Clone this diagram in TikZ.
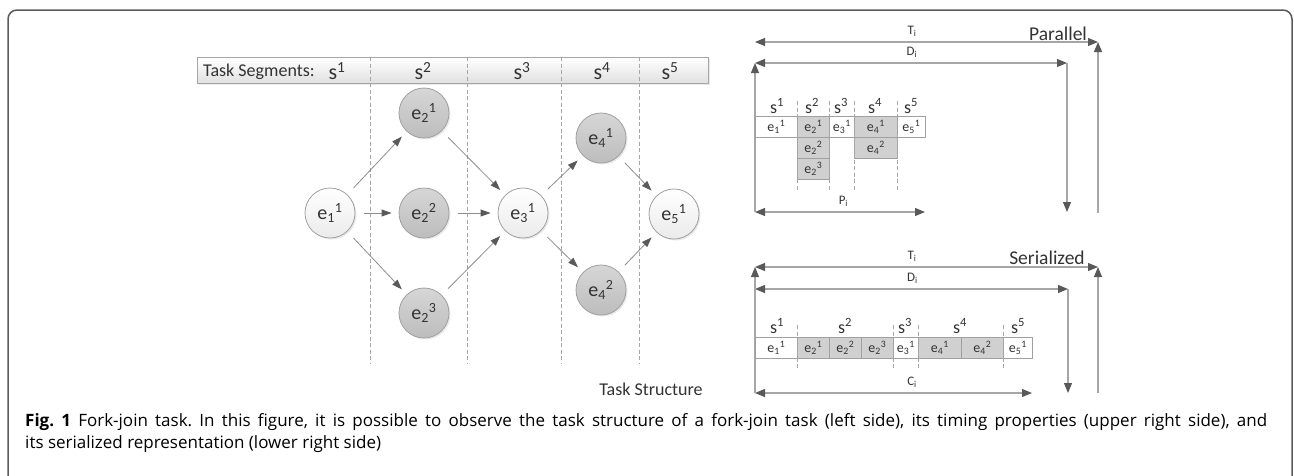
\documentclass[tikz,border=0pt]{standalone}
\usepackage{fontspec}
\setmainfont{Carlito}
\newfontfamily\capfont{Open Sans}
\usetikzlibrary{arrows.meta,shadows}
\definecolor{tipgray}{HTML}{595959}
\definecolor{linegray}{HTML}{8C8C8C}
\definecolor{dimgray}{HTML}{A6A6A6}
\definecolor{bordgray}{HTML}{A0A0A0}
\definecolor{dashgray}{HTML}{A6A6A6}
\definecolor{fillgray}{HTML}{D0D0D0}
\definecolor{framegray}{HTML}{5A5A5A}
\definecolor{txt}{HTML}{333333}
\newcommand\ev[2]{e\textsubscript{#1}\textsuperscript{#2}}
\newcommand\sv[1]{s\textsuperscript{#1}}
\tikzset{
  circnode/.style={circle, minimum size=50pt, inner sep=0pt, draw=bordgray, line width=0.8pt,
    font=\fontsize{20}{20}\selectfont, text=txt,
    drop shadow={shadow xshift=1.5pt,shadow yshift=-1.5pt,opacity=0.18}},
  wnode/.style={circnode, top color=white, bottom color=white!92!black},
  gnode/.style={circnode, top color=white!84!black, bottom color=white!74!black},
  flow/.style={draw=linegray, line width=0.8pt, -{Triangle[length=10pt,width=7pt,color=tipgray]},
    shorten <=9pt, shorten >=7pt},
  segdash/.style={draw=dashgray, line width=0.7pt, dash pattern=on 4pt off 2.5pt},
  dimline/.style={draw=dimgray, line width=1.1pt},
  dimarr/.style={dimline, >={Triangle[length=10pt,width=8pt,color=tipgray]}},
  dimlab/.style={font=\fontsize{13}{13}\selectfont, text=txt, inner sep=0pt},
  gbox/.style={draw=bordgray, line width=0.8pt, minimum height=21pt, inner sep=0pt,
    anchor=north west, font=\fontsize{14}{14}\selectfont, text=txt},
  wbox/.style={gbox, fill=white},
  sbox/.style={gbox, fill=fillgray},
  glab/.style={font=\fontsize{18}{18}\selectfont, text=txt, inner sep=0pt},
  seglab/.style={font=\fontsize{22}{22}\selectfont, text=txt, inner sep=0pt},
  titlab/.style={font=\fontsize{18}{18}\selectfont, text=txt, inner sep=0pt},
  bigtit/.style={font=\fontsize{19.5}{19.5}\selectfont, text=txt, inner sep=0pt},
  captext/.style={anchor=base west, inner sep=0pt, font=\capfont\fontsize{17}{17}\selectfont\frenchspacing, text=black},
}
\begin{document}
\begin{tikzpicture}[x=1pt,y=-1pt]
\useasboundingbox (0,0) rectangle (1294,475);
% frame
\draw[framegray, line width=1.5pt, rounded corners=9pt] (8,520) -- (8,10) -- (1292,10) -- (1292,520);

% ---------- Task structure ----------
\node[draw=dimgray, line width=0.8pt, top color=white, bottom color=white!88!black,
  minimum width=511pt, minimum height=26pt, inner sep=0pt, anchor=north west,
  drop shadow={shadow xshift=1.5pt,shadow yshift=-1.5pt,opacity=0.18}] (bar) at (197,57) {};
\node[titlab, anchor=west] (tseg) at (203,72) {Task Segments:};
\node[seglab] (bs1) at (337,71) {\sv{1}};
\node[seglab] (bs2) at (423,71) {\sv{2}};
\node[seglab] (bs3) at (522,71) {\sv{3}};
\node[seglab] (bs4) at (602,71) {\sv{4}};
\node[seglab] (bs5) at (670,71) {\sv{5}};
\foreach \xx [count=\i] in {370,467,561,639}{
  \coordinate (dt\i) at (\xx,57);
  \coordinate (db\i) at (\xx,363);
  \draw[segdash] (dt\i) -- (db\i);
}
\node[wnode] (e11) at (330,213) {\ev{1}{1}};
\node[gnode] (e21) at (424,113) {\ev{2}{1}};
\node[gnode] (e22) at (424,213) {\ev{2}{2}};
\node[gnode] (e23) at (424,313) {\ev{2}{3}};
\node[wnode] (e31) at (523,213) {\ev{3}{1}};
\node[gnode] (e41) at (601,138) {\ev{4}{1}};
\node[gnode] (e42) at (601,290) {\ev{4}{2}};
\node[wnode] (e51) at (674,214) {\ev{5}{1}};
\draw[flow] (e11) -- (e21);
\draw[flow] (e11) -- (e22);
\draw[flow] (e11) -- (e23);
\draw[flow] (e21) -- (e31);
\draw[flow] (e22) -- (e31);
\draw[flow] (e23) -- (e31);
\draw[flow] (e31) -- (e41);
\draw[flow] (e31) -- (e42);
\draw[flow] (e41) -- (e51);
\draw[flow] (e42) -- (e51);
\node[titlab] (tstruct) at (651,389) {Task Structure};

% ---------- Parallel ----------
\node[bigtit] (par) at (1058,34) {Parallel};
\coordinate (pTl) at (755,42);  \coordinate (pTr) at (1098,42);
\coordinate (pDl) at (755,63);  \coordinate (pDr) at (1067,63);
\coordinate (pPl) at (755,212); \coordinate (pPr) at (925,212);
\coordinate (pDb) at (1067,212); \coordinate (pTb) at (1098,213);
\draw[dimarr,<->] (pTl) -- node[dimlab, pos=0.458, above=5pt] {T\textsubscript{i}} (pTr);
\draw[dimarr,<->] (pDl) -- node[dimlab, pos=0.503, above=5pt] {D\textsubscript{i}} (pDr);
\draw[dimarr,<->] (pPl) -- node[dimlab, pos=0.52, above=5pt] {P\textsubscript{i}} (pPr);
\draw[dimarr,->] (pPl) -- (pDl);
\draw[dimarr,->] (pDr) -- (pDb);
\draw[dimarr,->] (pTb) -- (pTr);

\node[glab] (ps1) at (777,106) {\sv{1}};
\node[glab] (ps2) at (812,106) {\sv{2}};
\node[glab] (ps3) at (841,106) {\sv{3}};
\node[glab] (ps4) at (875,106) {\sv{4}};
\node[glab] (ps5) at (911,106) {\sv{5}};
\node[wbox, minimum width=42pt] (p11) at (755,116) {\ev{1}{1}};
\node[sbox, minimum width=32pt] (p21) at (797,116) {\ev{2}{1}};
\node[sbox, minimum width=32pt] (p22) at (797,137) {\ev{2}{2}};
\node[sbox, minimum width=32pt] (p23) at (797,158) {\ev{2}{3}};
\node[wbox, minimum width=25pt] (p31) at (829,116) {\ev{3}{1}};
\node[sbox, minimum width=43pt] (p41) at (854,116) {\ev{4}{1}};
\node[sbox, minimum width=43pt] (p42) at (854,137) {\ev{4}{2}};
\node[wbox, minimum width=28pt] (p51) at (897,116) {\ev{5}{1}};
\foreach \xx [count=\i] in {797,829,854,897}{
  \coordinate (pdt\i) at (\xx,101);
  \coordinate (pdb\i) at (\xx,190);
  \draw[segdash, line width=0.6pt] (pdt\i) -- (pdb\i);
}

% ---------- Serialized ----------
\node[bigtit] (ser) at (1047,258) {Serialized};
\coordinate (sTl) at (755,267);  \coordinate (sTr) at (1098,267);
\coordinate (sDl) at (755,289);  \coordinate (sDr) at (1068,289);
\coordinate (sCl) at (755,393);  \coordinate (sCr) at (1032,393);
\coordinate (sDb) at (1068,393); \coordinate (sTb) at (1098,393);
\draw[dimarr,<->] (sTl) -- node[dimlab, pos=0.458, above=5pt] {T\textsubscript{i}} (sTr);
\draw[dimarr,<->] (sDl) -- node[dimlab, pos=0.503, above=5pt] {D\textsubscript{i}} (sDr);
\draw[dimarr,<->] (sCl) -- node[dimlab, pos=0.567, above=5pt] {C\textsubscript{i}} (sCr);
\draw[dimarr,->] (sCl) -- (sTl);
\draw[dimarr,->] (sDr) -- (sDb);
\draw[dimarr,->] (sTb) -- (sTr);

\node[glab] (ss1) at (777,326) {\sv{1}};
\node[glab] (ss2) at (845,326) {\sv{2}};
\node[glab] (ss3) at (905,326) {\sv{3}};
\node[glab] (ss4) at (960,326) {\sv{4}};
\node[glab] (ss5) at (1018,326) {\sv{5}};
\node[wbox, minimum width=42pt] (s11) at (755,337) {\ev{1}{1}};
\node[sbox, minimum width=32pt] (s21) at (797,337) {\ev{2}{1}};
\node[sbox, minimum width=32pt] (s22) at (829,337) {\ev{2}{2}};
\node[sbox, minimum width=32pt] (s23) at (861,337) {\ev{2}{3}};
\node[wbox, minimum width=25pt] (s31) at (893,337) {\ev{3}{1}};
\node[sbox, minimum width=43pt] (s41) at (918,337) {\ev{4}{1}};
\node[sbox, minimum width=42pt] (s42) at (961,337) {\ev{4}{2}};
\node[wbox, minimum width=29pt] (s51) at (1003,337) {\ev{5}{1}};
\foreach \xx [count=\i] in {797,893,918,1003}{
  \coordinate (sdt\i) at (\xx,325);
  \coordinate (sdb\i) at (\xx,368);
  \draw[segdash, line width=0.6pt] (sdt\i) -- (sdb\i);
}

% ---------- Caption ----------
\node[captext] (cap1) at (25,426)
  {\makebox[1242pt][s]{\textbf{Fig. 1} Fork-join task. In this figure, it is possible to observe the task structure of a fork-join task (left side), its timing properties (upper right side), and}};
\node[captext] (cap2) at (25,448)
  {its serialized representation (lower right side)};
\end{tikzpicture}
\end{document}
